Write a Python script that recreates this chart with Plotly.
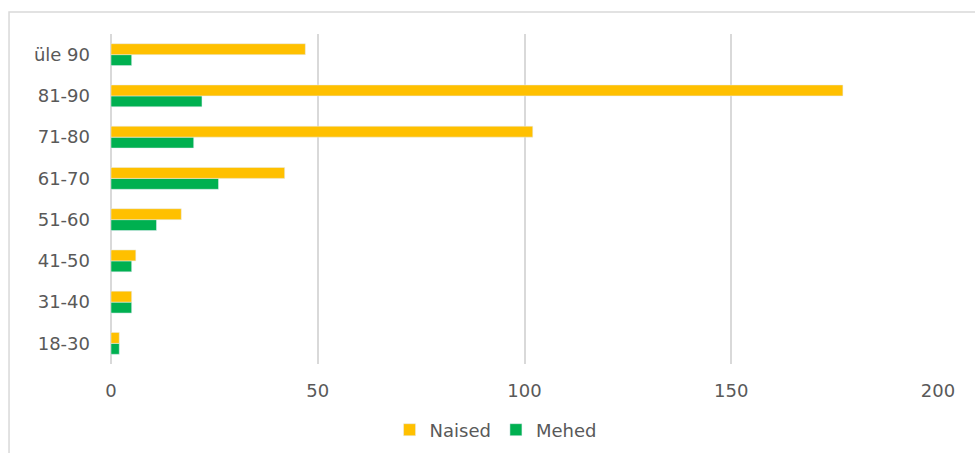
import plotly.graph_objects as go

categories = ["18-30", "31-40", "41-50", "51-60", "61-70", "71-80", "81-90", "üle 90"]
naised = [2, 5, 6, 17, 42, 102, 177, 47]
mehed = [2, 5, 5, 11, 26, 20, 22, 5]
x_ticks = [0, 50, 100, 150, 200]

fig = go.Figure()
fig.add_trace(go.Bar(y=categories, x=mehed, name="Mehed", orientation="h",
                     marker=dict(color="#00B050"), legendrank=2))
fig.add_trace(go.Bar(y=categories, x=naised, name="Naised", orientation="h",
                     marker=dict(color="#FFC000"), legendrank=1))

fig.update_layout(
    width=975, height=453,
    margin=dict(l=111, r=37, t=34, b=89, autoexpand=False),
    plot_bgcolor="white", paper_bgcolor="white",
    barmode="group", bargap=0.47, bargroupgap=0,
    font=dict(family="DejaVu Sans, sans-serif", size=18, color="#595959"),
    xaxis=dict(range=[0, 200], tickvals=x_ticks, showgrid=True, gridcolor="#D9D9D9",
               gridwidth=2, zeroline=True, zerolinecolor="#D9D9D9", zerolinewidth=2,
               showline=False, ticklabelstandoff=14, fixedrange=True),
    yaxis=dict(categoryorder="array", categoryarray=categories, showgrid=False,
               zeroline=False, showline=False, ticklabelstandoff=20),
    legend=dict(orientation="h", x=0.465, xanchor="center", y=-0.2, yanchor="middle",
                font=dict(size=18, color="#595959"), itemwidth=30),
    showlegend=True,
)
fig.add_shape(type="rect", xref="paper", yref="paper", x0=-0.1233, y0=-0.3,
              x1=1.06, y1=1.0667, line=dict(color="#D9D9D9", width=1.5), layer="below")

fig.write_html("out.html")
